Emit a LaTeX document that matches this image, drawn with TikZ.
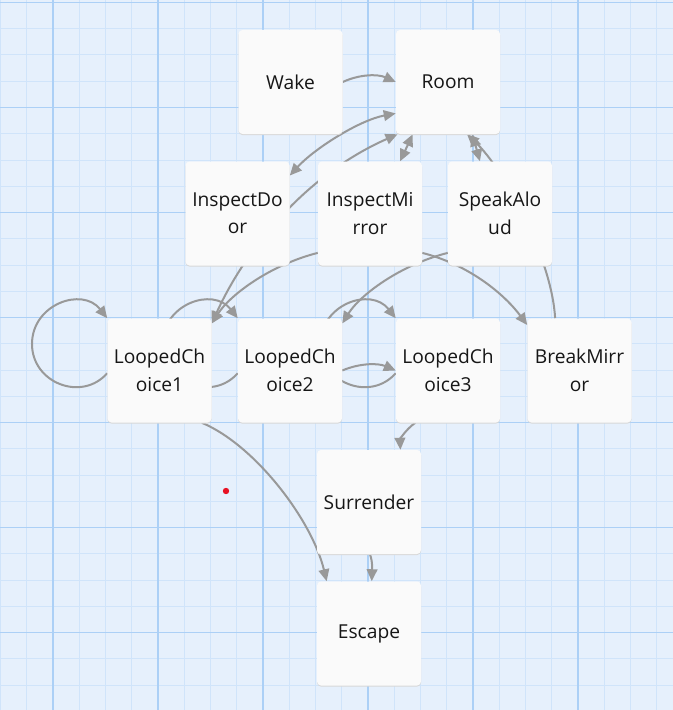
\documentclass[tikz,border=0pt]{standalone}
\usepackage{fontspec}
\setmainfont{Open Sans}
\usetikzlibrary{arrows.meta}
\definecolor{gridbg}{RGB}{230,240,252}
\definecolor{gridminor}{RGB}{208,228,250}
\definecolor{gridmajor}{RGB}{172,208,246}
\definecolor{boxfill}{RGB}{250,250,250}
\definecolor{boxshade}{RGB}{216,216,216}
\definecolor{linkgray}{RGB}{153,153,153}
\definecolor{boxtext}{RGB}{22,22,22}
\definecolor{dotred}{RGB}{232,17,35}
\pgfdeclarelayer{grid}
\pgfdeclarelayer{links}
\pgfsetlayers{grid,links,main}

\begin{document}
\begin{tikzpicture}[x=0.75pt,y=-0.75pt]
\tikzstyle{passage}=[fill=boxfill,rounded corners=3pt,minimum size=78pt,inner sep=0pt,align=center,text=boxtext,font=\fontsize{14.4}{20.6}\selectfont,preaction={fill=boxshade,transform canvas={yshift=-0.8pt}}]
\tikzstyle{link}=[draw=linkgray,line width=1.5pt,-{Triangle[length=9pt,width=8pt]}]
\tikzstyle{twolink}=[link,{Triangle[length=9pt,width=8pt]}-{Triangle[length=9pt,width=8pt]}]
\useasboundingbox (0,0) rectangle (673,710);

% background grid
\begin{pgfonlayer}{grid}
\fill[gridbg] (0,0) rectangle (673,710);
\foreach \k in {0,...,25}
    \draw[gridminor,line width=0.75pt] (0.5+26.25*\k,0) -- ++(0,710);
\foreach \k in {0,...,26}
    \draw[gridminor,line width=0.75pt] (0,2.5+26.25*\k) -- ++(673,0);
\foreach \k in {0,...,6}
    \draw[gridmajor,line width=0.8pt] (53+105*\k,0) -- ++(0,710);
\foreach \k in {0,...,6}
    \draw[gridmajor,line width=0.8pt] (0,2.5+105*\k) -- ++(673,0);
\end{pgfonlayer}

% passages
\node[passage] (wake) at (290.5,82) {Wake};
\node[passage] (room) at (448,82) {Room};
\node[passage] (door) at (237.5,213.5) {InspectDo\\or};
\node[passage] (mirror) at (370,213.5) {InspectMi\\rror};
\node[passage] (speak) at (500,213.5) {SpeakAlo\\ud};
\node[passage] (lc1) at (159.5,370.5) {LoopedCh\\oice1};
\node[passage] (lc2) at (290,370.5) {LoopedCh\\oice2};
\node[passage] (lc3) at (448,370.5) {LoopedCh\\oice3};
\node[passage] (breakm) at (579.5,370.5) {BreakMirr\\or};
\node[passage] (surrender) at (369,502) {Surrender};
\node[passage] (escape) at (369,633.5) {Escape};

\fill[dotred] (226,491) circle[radius=2.4pt];

% links
\begin{pgfonlayer}{links}
\draw[link] (wake.east) .. controls (360,74) and (378,74) .. (room.west);
\draw[twolink] (door.36) .. controls (315,148) and (360,120) .. (room.-149);
\draw[twolink] (lc1.42) .. controls (245,250) and (305,175) .. (room.-134);
\draw[twolink] (mirror.60) -- (room.-124);
\draw[twolink] (speak.111) -- (room.-65);
\draw[link] (breakm.115) .. controls (552,260) and (505,170) .. (room.-70);
\draw[link] (mirror.-143) .. controls (270,265) and (230,295) .. (lc1.42);
\draw[link] (speak.-143) .. controls (400,265) and (360,295) .. (lc2.42);
\draw[link] (mirror.-37) .. controls (470,265) and (505,295) .. (breakm.139);
\foreach \n/\dx in {lc1/0,lc2/130.5,lc3/288.5}
    \draw[link] (\n.-177) .. controls ({81.5+\dx},402.3) and ({32+\dx},382.8) .. ({32+\dx},344)
        .. controls ({32+\dx},304.1) and ({82.4+\dx},286.6) .. (\n.north west);
\draw[link] (lc2.east) .. controls (360,363) and (378,363) .. (lc3.west);
\draw[link] (lc3.-122) .. controls (405,430) and (400,440) .. (surrender.59);
\draw[link] (lc1.-51) .. controls (255,445) and (312,520) .. (escape.129);
\draw[link] (surrender.-89) .. controls (373,562) and (372,572) .. (escape.87);
\end{pgfonlayer}
\end{tikzpicture}
\end{document}
